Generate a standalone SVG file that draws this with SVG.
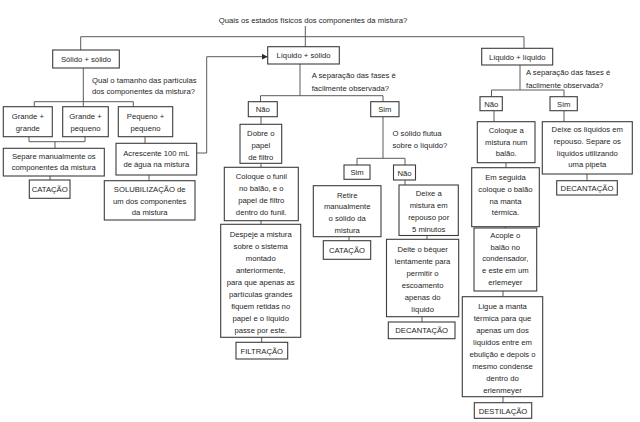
<svg xmlns="http://www.w3.org/2000/svg" width="640" height="422" viewBox="0 0 640 422">
<defs>
<style>
text{font-family:"Liberation Sans",Arial,sans-serif;font-size:7.7px;fill:#262626}
.c{text-anchor:middle}
.b{fill:#fff;stroke:#3c3c3c;stroke-width:1.1}
.l{fill:none;stroke:#5a5a5a;stroke-width:1}
</style>
<marker id="ah" viewBox="0 0 6 6" refX="6" refY="3" markerWidth="6" markerHeight="6" orient="auto" markerUnits="userSpaceOnUse">
<path d="M0,0 L6,3 L0,6 z" fill="#2b2b2b"/>
</marker>
</defs>
<rect width="640" height="422" fill="#fff"/>
<g id="connectors">
<path class="l" d="M305.3,26 V46.7 M80.7,50 V36.7 H524 V48.3"/>
<path class="l" d="M83.3,68 V106.7 M34.3,106.7 V101.7 H133.3 V106.7"/>
<path class="l" d="M29,136.7 V141.7 H85 V136.7 M55,141.7 V148.3 M50,176 V180"/>
<path class="l" d="M145,136.7 V143.3 M149,175 V180.7"/>
<path class="l" d="M196.7,153 H206.7 V56.7 H267.7" marker-end="url(#ah)"/>
<path class="l" d="M300,64 V95.7 M260.5,101.7 V95.7 H383 V101.7"/>
<path class="l" d="M261,116.7 V124.3 M261,163.3 V167.3 M261,220.7 V224.3 M261.7,337.3 V342.3"/>
<path class="l" d="M383,116.7 V158.3 M357,165 V158.3 H405 V165"/>
<path class="l" d="M349,236.7 V240.7 M405,180 V185 M427,235.5 V239.3 M422,316.7 V322"/>
<path class="l" d="M520,65 V90 M491.5,96.7 V90 H564 V96.7"/>
<path class="l" d="M494,110.7 V121.7 M506,162.7 V167.7 M505.5,226.7 V228 M503,291 V296.7 M503,396.7 V402.7"/>
<path class="l" d="M564,110.7 V121.7 M587,174 V180.7"/>
</g>
<g id="title"><text class="c" x="313" y="23">Quais os estados físicos dos componentes da mistura?</text></g>
<g id="q1"><text x="92" y="83">Qual o tamanho das partículas</text><text x="92" y="93.5">dos componentes da mistura?</text></g>
<g id="q2"><text x="311.7" y="78">A separação das fases é</text><text x="311.7" y="90.5">facilmente observada?</text></g>
<g id="q3"><text x="392.5" y="136">O sólido flutua</text><text x="392.5" y="148">sobre o líquido?</text></g>
<g id="q4"><text x="526" y="75">A separação das fases é</text><text x="526" y="88">facilmente observada?</text></g>

<g id="solido"><rect class="b" x="52.7" y="50" width="66.6" height="18"/><text class="c" x="86" y="62">Sólido + sólido</text></g>
<g id="gg"><rect class="b" x="3.3" y="106.7" width="49" height="30"/><text class="c" x="27.8" y="119">Grande +</text><text class="c" x="27.8" y="131">grande</text></g>
<g id="gp"><rect class="b" x="62.7" y="106.7" width="45.6" height="30"/><text class="c" x="85.5" y="119">Grande +</text><text class="c" x="85.5" y="131">pequeno</text></g>
<g id="pp"><rect class="b" x="118.3" y="106.7" width="54.4" height="30"/><text class="c" x="145.5" y="119">Pequeno +</text><text class="c" x="145.5" y="131">pequeno</text></g>
<g id="separe"><rect class="b" x="3.3" y="148.3" width="101" height="27.7"/><text class="c" x="53.8" y="159">Separe manualmente os</text><text class="c" x="53.8" y="170.3">componentes da mistura</text></g>
<g id="catacao1"><rect class="b" x="29.3" y="180" width="40.7" height="18.3"/><text class="c" x="49.7" y="192">CATAÇÃO</text></g>
<g id="acrescente"><rect class="b" x="116" y="143.3" width="80.7" height="31.7"/><text class="c" x="156.3" y="155.7">Acrescente 100 mL</text><text class="c" x="156.3" y="167">de água na mistura</text></g>
<g id="solub"><rect class="b" x="104.3" y="180.7" width="90.7" height="39.3"/><text class="c" x="149.7" y="192.3">SOLUBILIZAÇÃO de</text><text class="c" x="149.7" y="204">um dos componentes</text><text class="c" x="149.7" y="215.3">da mistura</text></g>

<g id="liqsol"><rect class="b" x="267.7" y="46.7" width="71.6" height="17.3"/><text class="c" x="303.5" y="58.4">Líquido + sólido</text></g>
<g id="nao1"><rect class="b" x="248.3" y="101.7" width="29" height="15"/><text class="c" x="262.8" y="112">Não</text></g>
<g id="sim1"><rect class="b" x="370.7" y="101.7" width="28.3" height="15"/><text class="c" x="384.8" y="112">Sim</text></g>
<g id="dobre"><rect class="b" x="240" y="124.3" width="41.7" height="39"/><text class="c" x="260.8" y="136.3">Dobre o</text><text class="c" x="260.8" y="148">papel</text><text class="c" x="260.8" y="160.3">de filtro</text></g>
<g id="funil"><rect class="b" x="224.3" y="167.3" width="74" height="53.4"/><text class="c" x="261.3" y="178.5">Coloque o funil</text><text class="c" x="261.3" y="190.5">no balão, e o</text><text class="c" x="261.3" y="203">papel de filtro</text><text class="c" x="261.3" y="215">dentro do funil.</text></g>
<g id="despeje"><rect class="b" x="220.7" y="224.3" width="80" height="113"/><text class="c" x="260.7" y="237">Despeje a mistura</text><text class="c" x="260.7" y="249">sobre o sistema</text><text class="c" x="260.7" y="261">montado</text><text class="c" x="260.7" y="273">anteriormente,</text><text class="c" x="260.7" y="285">para que apenas as</text><text class="c" x="260.7" y="297">partículas grandes</text><text class="c" x="260.7" y="309">fiquem retidas no</text><text class="c" x="260.7" y="321">papel e o líquido</text><text class="c" x="260.7" y="333">passe por este.</text></g>
<g id="filtracao"><rect class="b" x="236" y="342.3" width="51.7" height="16.7"/><text class="c" x="261.8" y="353.5">FILTRAÇÃO</text></g>
<g id="sim2"><rect class="b" x="344" y="165" width="26" height="14.3"/><text class="c" x="357" y="175">Sim</text></g>
<g id="nao2"><rect class="b" x="393.5" y="165" width="22" height="15"/><text class="c" x="404.5" y="175.5">Não</text></g>
<g id="retire"><rect class="b" x="313.3" y="185.7" width="67.7" height="51"/><text class="c" x="347.2" y="197.5">Retire</text><text class="c" x="347.2" y="209.2">manualmente</text><text class="c" x="347.2" y="221">o sólido da</text><text class="c" x="347.2" y="232.7">mistura</text></g>
<g id="catacao2"><rect class="b" x="323.3" y="240.7" width="47.4" height="18.6"/><text class="c" x="347" y="253">CATAÇÃO</text></g>
<g id="deixea"><rect class="b" x="399" y="185" width="59.3" height="50.5"/><text class="c" x="428.7" y="196.3">Deixe a</text><text class="c" x="428.7" y="208">mistura em</text><text class="c" x="428.7" y="219.7">repouso por</text><text class="c" x="428.7" y="231.5">5 minutos</text></g>
<g id="deite"><rect class="b" x="386.5" y="239.3" width="72.2" height="77.4"/><text class="c" x="422.6" y="252">Deite o béquer</text><text class="c" x="422.6" y="264">lentamente para</text><text class="c" x="422.6" y="276">permitir o</text><text class="c" x="422.6" y="288">escoamento</text><text class="c" x="422.6" y="300">apenas do</text><text class="c" x="422.6" y="312">líquido</text></g>
<g id="decantacao1"><rect class="b" x="388.3" y="322" width="66.7" height="16.7"/><text class="c" x="421.7" y="333.3">DECANTAÇÃO</text></g>

<g id="liqliq"><rect class="b" x="481.7" y="48.3" width="71" height="16.7"/><text class="c" x="517.2" y="59.7">Líquido + líquido</text></g>
<g id="nao3"><rect class="b" x="480" y="96.7" width="22.3" height="14"/><text class="c" x="491.2" y="106.7">Não</text></g>
<g id="sim3"><rect class="b" x="550" y="96.7" width="27.3" height="14"/><text class="c" x="563.7" y="106.7">Sim</text></g>
<g id="colocaa"><rect class="b" x="477.3" y="121.7" width="57.7" height="41"/><text class="c" x="506.2" y="133">Coloque a</text><text class="c" x="506.2" y="144.7">mistura num</text><text class="c" x="506.2" y="156.3">balão.</text></g>
<g id="emseguida"><rect class="b" x="471.7" y="167.7" width="67.6" height="59"/><text class="c" x="505.5" y="180.3">Em seguida</text><text class="c" x="505.5" y="192">coloque o balão</text><text class="c" x="505.5" y="203.7">na manta</text><text class="c" x="505.5" y="215.3">térmica.</text></g>
<g id="acople"><rect class="b" x="474" y="228" width="62.7" height="63"/><text class="c" x="505.3" y="238">Acople o</text><text class="c" x="505.3" y="249.7">balão no</text><text class="c" x="505.3" y="261.3">condensador,</text><text class="c" x="505.3" y="273">e este em um</text><text class="c" x="505.3" y="284.7">erlemeyer</text></g>
<g id="ligue"><rect class="b" x="462.3" y="296.7" width="80.4" height="100"/><text class="c" x="502.5" y="309">Ligue a manta</text><text class="c" x="502.5" y="321">térmica para que</text><text class="c" x="502.5" y="333">apenas um dos</text><text class="c" x="502.5" y="345">líquidos entre em</text><text class="c" x="502.5" y="357">ebulição e depois o</text><text class="c" x="502.5" y="369">mesmo condense</text><text class="c" x="502.5" y="381">dentro do</text><text class="c" x="502.5" y="393">erlenmeyer</text></g>
<g id="destilacao"><rect class="b" x="474.3" y="402.7" width="57.4" height="15.6"/><text class="c" x="503" y="413.5">DESTILAÇÃO</text></g>
<g id="deixeos"><rect class="b" x="542.3" y="121.7" width="90" height="52.3"/><text class="c" x="587.3" y="132.3">Deixe os líquidos em</text><text class="c" x="587.3" y="144">repouso. Separe os</text><text class="c" x="587.3" y="155.7">líquidos utilizando</text><text class="c" x="587.3" y="167.3">uma pipeta</text></g>
<g id="decantacao2"><rect class="b" x="556.7" y="180.7" width="60.6" height="14.3"/><text class="c" x="587" y="191">DECANTAÇÃO</text></g>
</svg>
